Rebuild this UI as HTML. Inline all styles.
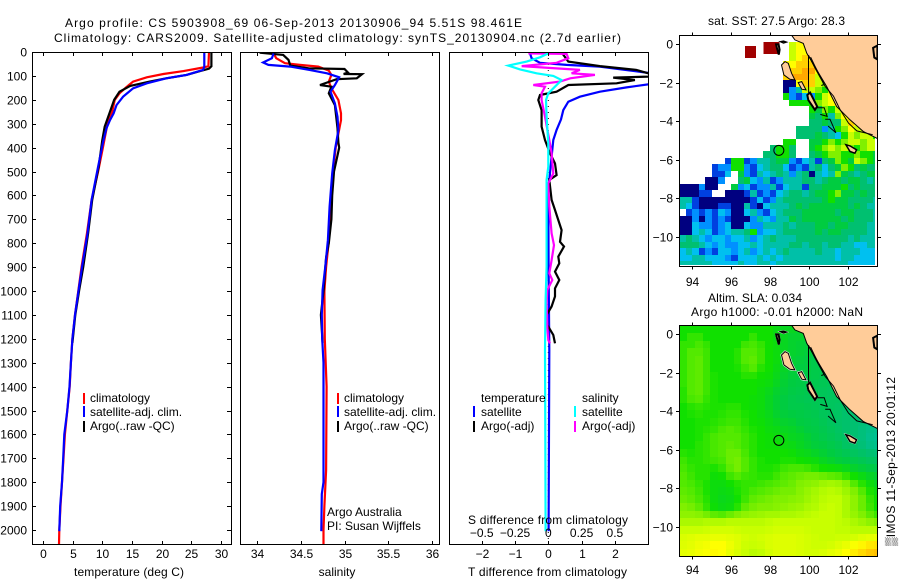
<!DOCTYPE html>
<html>
<head>
<meta charset="utf-8">
<title>Argo profile 5903908_69</title>
<style>
html,body{margin:0;padding:0;background:#fff;}
svg{display:block;}
text{font-family:"Liberation Sans",Arial,"DejaVu Sans",sans-serif;font-size:12px;fill:#000;}
</style>
</head>
<body>
<svg id="fig" xmlns="http://www.w3.org/2000/svg" width="900" height="580" viewBox="0 0 900 580">
<defs>
<clipPath id="clip1"><rect x="32" y="52" width="199" height="493"/></clipPath>
<clipPath id="clip2"><rect x="240" y="52" width="199" height="493"/></clipPath>
<clipPath id="clip3"><rect x="449" y="52" width="199" height="493"/></clipPath>
<clipPath id="clipM1"><rect x="679" y="35" width="198" height="232"/></clipPath>
<clipPath id="clipM2"><rect x="679" y="325" width="198" height="232"/></clipPath>
</defs>
<text x="65" y="27" textLength="457" lengthAdjust="spacing">Argo profile: CS 5903908_69 06-Sep-2013 20130906_94 5.51S 98.461E</text>
<text x="54" y="42" textLength="567" lengthAdjust="spacing">Climatology: CARS2009. Satellite-adjusted climatology: synTS_20130904.nc (2.7d earlier)</text>

<g id="layer-maps"></g>
<g id="layer-lines"></g>
<g id="layer-axes"></g>

<text x="74" y="576" textLength="110" lengthAdjust="spacing">temperature (deg C)</text>
<text x="337" y="576" text-anchor="middle">salinity</text>
<text x="468" y="576" textLength="159" lengthAdjust="spacing">T difference from climatology</text>
<text x="468" y="524" textLength="160" lengthAdjust="spacing">S difference from climatology</text>

<g>
<rect x="83" y="393" width="2" height="11" fill="#f00"/>
<rect x="83" y="406" width="2" height="11" fill="#00f"/>
<rect x="83" y="421" width="2" height="11" fill="#000"/>
<text x="90" y="402">climatology</text>
<text x="90" y="416">satellite-adj. clim.</text>
<text x="90" y="430">Argo(..raw -QC)</text>
</g>
<g>
<rect x="337" y="393" width="2" height="11" fill="#f00"/>
<rect x="337" y="406" width="2" height="11" fill="#00f"/>
<rect x="337" y="421" width="2" height="11" fill="#000"/>
<text x="344" y="402">climatology</text>
<text x="344" y="416">satellite-adj. clim.</text>
<text x="344" y="430">Argo(..raw -QC)</text>
<text x="327" y="516">Argo Australia</text>
<text x="327" y="530">PI: Susan Wijffels</text>
</g>
<g>
<text x="481" y="402">temperature</text>
<text x="582" y="402">salinity</text>
<rect x="473" y="406" width="2" height="11" fill="#00f"/>
<rect x="473" y="421" width="2" height="11" fill="#000"/>
<rect x="574" y="406" width="2" height="11" fill="#0ff"/>
<rect x="574" y="421" width="2" height="11" fill="#f0f"/>
<text x="481" y="416">satellite</text>
<text x="481" y="430">Argo(-adj)</text>
<text x="582" y="416">satellite</text>
<text x="582" y="430">Argo(-adj)</text>
</g>

<text x="708" y="25" textLength="137" lengthAdjust="spacing">sat. SST: 27.5 Argo: 28.3</text>
<text x="708" y="302" textLength="94" lengthAdjust="spacing">Altim. SLA: 0.034</text>
<text x="691" y="316" textLength="172" lengthAdjust="spacing">Argo h1000: -0.01 h2000: NaN</text>
<text transform="translate(895,546) rotate(-90)" textLength="169" lengthAdjust="spacing">▒IMOS 11-Sep-2013 20:01:12</text>
</svg>
<script>
// ---- profile values: temperature panel ----
const tempClimDepth = [0,60,65,80,92,106,124,148,173,200,257,285,400,500,620,760,900,1000,1100,1200,1300,1400,1500,1600,1700,1800,1900,2000,2062];
const tempClimValue = [28,27.9,27,23.7,20.3,17.5,15.2,14,12.9,12.1,11.6,11,10.1,9.3,8.2,7.4,6.5,5.95,5.4,4.95,4.7,4.5,4.1,3.7,3.45,3.2,2.95,2.75,2.7];
const tempArgoDepth = [0,60,70,80,96,110,124,142,166,200,257,312,368,480,619,759,898,996,1100,1217];
const tempArgoValue = [28.4,28.4,28,26.5,24.2,20.8,18,14.7,12.9,12,11.2,10.4,10,9.4,8.3,7.6,6.8,6.1,5.45,4.95];
const tempSatDepth = [0,61,75,96,110,131,152,187,222,257,285,319,368,480,619,759,898,996,1100,1200,1300,1400,1500,1600,1700,1800,1900,2005];
const tempSatValue = [27.2,27.2,27,24.2,20.8,17.5,15.2,13.5,12.4,11.9,11.3,10.7,10.2,9.3,8.2,7.5,6.6,6,5.4,4.95,4.7,4.47,4.1,3.6,3.4,3.2,2.9,2.75];

// ---- profile values: salinity panel ----
const salClimDepth = [6,26,47,54,61,78,96,124,152,201,257,285,400,500,650,790,900,1000,1200,1400,1750,1900,2000,2062];
const salClimValue = [34.19,34.22,34.32,34.49,34.7,34.82,34.85,34.82,34.85,34.93,34.96,34.96,34.9,34.87,34.84,34.82,34.79,34.77,34.775,34.795,34.79,34.77,34.76,34.76];
const salArgoDepth = [3,12,33,57,68,71,86,92,93,110,114,138,145,173,222,319,380,400,500,600,700,800,860,1000,1100,1217];
const salArgoValue = [34.03,34.3,34.36,34.38,34.59,35,35.04,34.99,35.2,35.14,34.91,34.72,34.85,34.82,34.89,34.92,34.93,34.94,34.88,34.86,34.85,34.82,34.79,34.76,34.73,34.75];
const salSatDepth = [6,26,44,54,61,75,89,106,138,166,215,271,327,410,508,647,787,898,996,1100,1200,1300,1800,1850,2005];
const salSatValue = [34.19,34.17,34.07,34.13,34.38,34.6,34.8,34.94,34.89,34.84,34.89,34.92,34.93,34.89,34.86,34.83,34.81,34.78,34.75,34.74,34.745,34.76,34.76,34.74,34.735];

// ---- profile values: difference panel ----
const diffTSatDepth = [6,26,45,54,61,86,100,120,135,148,166,187,208,243,282,326,368,438,508,577,900,1247,2005];
const diffTSatValue = [-0.55,-0.5,-0.25,0.55,1.55,2.95,4.2,4.2,3,2.35,1.55,0.95,0.6,0.45,0.38,0.25,0.15,0.1,0.05,0,0.01,0.03,0.01];
const diffTArgoDepth = [6,40,59,75,89,100,107,117,131,138,166,180,201,243,312,368,424,466,515,535,619,661,745,794,814,856,884,919,954,989,1023,1065,1100,1142,1184,1219];
const diffTArgoValue = [0.42,0.6,1.55,2.65,3,3.75,1.95,2.6,2.05,0.6,0.25,-0.25,-0.3,-0.2,-0.2,-0.1,0.05,0.2,0.25,0.03,0.1,0.2,0.4,0.35,0.47,0.3,0.33,0.2,0.33,0.2,0.2,0.1,-0.05,-0.03,0.15,0.2];
const diffSArgoDepth = [6,8,26,45,59,75,89,96,110,124,138,145,173,201,271,368,424,508,550,647,759,808,871,926,954,996,1052,1150,1206,1219];
const diffSArgoValue = [-0.15,0.1375,0.15,0.0625,-0.2,0.2375,0.175,0.35,0.165,0.0875,-0.1125,-0.025,-0.05,-0.05,-0.025,0.0075,0.025,0.0375,0,0.0075,0.025,0.0425,0.025,0.0075,0.03,-0.0075,-0.0125,-0.0075,0,0.0125];
const diffSSatDepth = [6,22,40,57,73,89,100,117,152,173,201,271,382,480,535,647,759,898,1038,1247,1600,2005];
const diffSSatValue = [0,-0.0625,-0.1625,-0.3,-0.2125,-0.0875,0.0375,0.1,0.0375,0,-0.0175,-0.0125,0,0,-0.0125,-0.0125,-0.0125,-0.0125,-0.02,-0.025,-0.0225,-0.02];

// ---- axis tick labels ----
const depthTicks = [0,100,200,300,400,500,600,700,800,900,1000,1100,1200,1300,1400,1500,1600,1700,1800,1900,2000];
const tempTicks = [0,5,10,15,20,25,30];
const salTicks = [34,34.5,35,35.5,36];
const diffTTicks = [-2,-1,0,1,2];
const diffSTicks = [-0.5,-0.25,0,0.25,0.5];
const lonTicks = [94,96,98,100,102];
const latTicks = [0,-2,-4,-6,-8,-10];

// ---- map values (colour-scale levels: 0 navy ... 7 green ... 10 yellow ... 12 orange) ----
const _ = null;
const sstLevels = [
[],
[_,_,_,_,_,_,_,_,_,_,_,_,_,_,_,_,_,9,10,10],
[_,_,_,_,_,_,_,_,_,_,_,_,_,_,_,_,_,9,10,10,10],
[_,_,_,_,_,_,_,_,_,_,_,_,_,_,_,_,_,9,10,11,10],
[_,_,_,_,_,_,_,_,_,_,_,_,_,_,_,_,10,10,11,11,11,10],
[_,_,_,_,_,_,_,_,_,_,_,_,_,_,_,_,11,11,11,12,12,10,9],
[_,_,_,_,_,_,_,_,_,_,_,_,_,_,_,_,11,12,12,12,11,9,8],
[_,_,_,_,_,_,_,_,_,_,_,_,_,_,_,_,0,0,10,11,11,9,8,7],
[_,_,_,_,_,_,_,_,_,_,_,_,_,_,_,_,0,2,4,9,9,8,7,9,9],
[_,_,_,_,_,_,_,_,_,_,_,_,_,_,_,_,7,2,1,3,2,7,9,10,9,9],
[_,_,_,_,_,_,_,_,_,_,_,_,_,_,_,_,_,7,7,7,7,8,9,10,10,9,8],
[_,_,_,_,_,_,_,_,_,_,_,_,_,_,_,_,_,_,_,_,7,6,8,7,9,10,9],
[_,_,_,_,_,_,_,_,_,_,_,_,_,_,_,_,_,_,_,_,6,5,7,4,8,10,10,9],
[_,_,_,_,_,_,_,_,_,_,_,_,_,_,_,_,_,_,_,_,5,5,6,5,5,9,11,10,8],
[_,_,_,_,_,_,_,_,_,_,_,_,_,_,_,_,_,_,5,5,5,5,2,4,7,8,10,9,9,7],
[_,_,_,_,_,_,_,_,_,_,_,_,_,_,_,_,_,_,5,5,5,6,5,4,3,7,9,8,9,9,7],
[_,_,_,_,_,_,_,_,_,_,_,_,_,_,_,_,7,7,_,_,6,6,7,8,7,8,9,9,8,9,9],
[_,_,_,_,_,_,_,_,_,_,_,_,_,_,5,7,7,5,_,_,6,7,8,9,8,9,8,7,8,9,9],
[_,_,_,_,_,_,_,_,_,_,_,_,_,5,5,7,7,5,_,_,5,6,7,8,8,7,7,8,7,7,6],
[_,_,_,_,_,_,_,1,7,7,1,2,4,4,5,6,6,2,1,3,4,1,5,6,8,7,6,9,8,7,6],
[_,_,_,_,_,1,2,2,7,7,2,1,3,4,5,5,3,1,2,1,4,5,3,5,6,8,7,5,6,5,5],
[_,_,_,_,_,1,1,3,_,6,2,1,4,3,4,5,4,2,4,5,0,4,3,4,8,6,5,4,5,6,6],
[_,_,_,_,0,0,2,_,_,5,6,3,2,4,1,2,4,4,4,5,5,4,5,6,6,5,6,6,5,4,5],
[0,0,0,2,0,0,_,_,6,2,3,1,2,2,4,1,3,4,4,1,5,5,6,6,6,7,5,6,5,5,5],
[0,0,0,1,1,_,_,0,0,0,1,4,1,2,1,3,4,5,5,4,5,6,6,7,8,6,6,5,6,5,5],
[4,4,1,0,0,0,0,0,0,0,0,1,3,1,2,4,5,5,5,5,5,5,6,7,6,6,5,5,5,5,4],
[4,3,1,0,0,0,1,1,0,0,4,1,0,3,4,4,4,5,6,5,6,6,6,6,6,6,5,6,5,4,4],
[_,1,2,1,2,1,3,2,0,0,3,4,2,1,3,4,5,5,5,6,6,6,6,6,5,6,6,5,5,5,4],
[0,0,2,0,2,1,2,1,0,0,0,2,4,3,2,4,4,6,5,6,6,6,6,6,6,5,6,5,5,5,4],
[0,0,3,2,2,1,2,3,0,0,3,2,2,4,4,4,5,4,5,5,5,6,6,5,6,6,5,5,5,4,4],
[0,0,3,4,3,1,2,3,4,4,5,7,2,3,3,4,5,5,5,5,5,6,5,6,6,5,5,5,5,4,4],
[4,5,4,3,2,3,3,2,3,3,4,2,3,4,5,4,4,4,5,5,5,5,5,5,5,5,4,5,4,4,4],
[5,5,5,4,3,2,3,2,2,3,3,4,3,4,4,4,4,5,5,4,5,5,4,5,5,4,4,3,3,4,4],
[3,4,3,1,2,1,3,3,2,3,4,2,3,4,3,4,5,4,4,4,4,5,4,4,3,4,4,4,3,3,3],
[3,3,4,4,3,3,3,2,1,3,3,3,4,3,4,3,4,4,4,4,4,4,4,4,3,4,4,3,3,3,3],
[4,4,4,4,4,3,3,3,3,4,3,3,4,4,3,4,4,4,4,4,4,4,4,4,4,4,3,3,3,3,3]
];
const sstHotLon = [97.0,97.95,98.2];
const sstHotLat = [-0.41,-0.21,-0.21];
const slaLevels = [
[7,7,7,7,7,7,7,7,7,7,7,7,6.7,6.5,6.5,6.3,6.3,6,6,6,6,6,6,6,6,6],
[7,7.3,7.3,7,7,7,7,7,7,7.3,7,7,6.7,6.5,6.3,6.3,6.2,6,6,6,6,6,6,6,6,6],
[7.3,7.3,7.5,7.3,7,7,7,7,7.4,7.5,7.3,7,6.8,6.5,6.3,6.2,6.1,6,6,6,6,6,6,6,6,6],
[7.3,7.6,7.6,7.4,7,7,7,7.2,7.6,7.6,7.4,7,6.8,6.5,6.3,6.2,6.1,6,6,6,6,6,6,6,6,6],
[7.3,7.6,7.7,7.4,7,7,7,7.2,7.6,7.7,7.4,7,6.8,6.5,6.2,6.1,6,5.8,5.8,5.8,5.8,5.8,5.8,5.8,5.8,5.8],
[7.3,7.6,7.7,7.4,7,7,7,7.1,7.4,7.6,7.2,7,6.7,6.4,6.2,6,6,5.8,5.8,5.8,5.8,5.8,5.8,5.8,5.8,5.8],
[7.3,7.6,7.7,7.4,7.1,7,7,7,7.2,7.2,7,6.9,6.6,6.3,6.1,6,5.9,5.8,5.7,5.6,5.6,5.6,5.6,5.6,5.6,5.6],
[7.3,7.6,7.7,7.4,7.1,7,7,7,7,7,6.9,6.8,6.5,6.2,6,5.9,5.8,5.7,5.6,5.5,5.5,5.5,5.5,5.5,5.5,5.5],
[7.2,7.6,7.7,7.4,7.1,7,7,7,7,7,6.8,6.6,6.3,6.1,5.9,5.8,5.7,5.6,5.5,5.4,5.4,5.4,5.4,5.4,5.4,5.4],
[7.2,7.5,7.6,7.3,7.1,7,7,7,7,6.9,6.8,6.5,6.2,6,5.8,5.7,5.6,5.6,5.5,5.4,5.4,5.3,5.3,5.3,5.3,5.3],
[7,7.2,7.3,7.2,7.1,7.1,7.2,7.2,7,6.9,6.8,6.5,6.2,6,5.8,5.8,5.7,5.6,5.5,5.4,5.3,5.2,5.1,5.1,5.1,5.1],
[7,7.1,7.2,7.1,7.1,7.2,7.3,7.3,7.1,7,6.8,6.6,6.3,6.1,6,5.9,5.8,5.7,5.5,5.4,5.3,5.1,5,4.9,4.8,4.8],
[7,7,7.1,7.1,7.2,7.3,7.4,7.4,7.2,7,6.9,6.7,6.5,6.3,6.2,6,5.9,5.8,5.6,5.4,5.2,5.1,5,4.9,4.8,4.8],
[7,7,7.1,7.2,7.3,7.5,7.6,7.5,7.3,7.1,7,6.8,6.7,6.5,6.4,6.2,6,5.9,5.7,5.5,5.3,5.1,5,4.8,4.6,4.5],
[7,7,7.1,7.3,7.5,7.6,7.6,7.6,7.4,7.2,7,6.9,6.8,6.7,6.5,6.4,6.2,6,5.8,5.6,5.4,5.2,5,4.8,4.5,4.4],
[7,7,7.2,7.3,7.5,7.6,7.7,7.6,7.4,7.2,7,6.9,6.9,6.8,6.7,6.5,6.3,6.1,6,5.8,5.6,5.3,5.1,4.9,4.6,4.5],
[7.2,7.1,7.2,7.3,7.5,7.6,7.8,7.8,7.5,7.2,7,7,7,7,6.9,6.7,6.6,6.4,6.2,6,5.8,5.6,5.4,5.2,5,4.9],
[7.4,7.2,7.2,7.3,7.4,7.5,7.8,7.9,7.6,7.3,7.1,7,7,7.1,7.1,7,6.9,6.8,6.5,6.3,6.1,6,5.8,5.6,5.4,5.3],
[7.5,7.3,7.2,7.2,7.1,7.3,7.7,7.9,7.6,7.3,7.1,7.1,7.2,7.4,7.5,7.5,7.4,7.2,7,6.9,6.8,6.6,6.3,6.1,5.9,5.7],
[7.6,7.4,7.2,7.2,6.9,7,7.4,7.6,7.4,7.3,7.2,7.2,7.4,7.6,7.7,7.8,7.9,7.9,7.8,7.7,7.6,7.3,7,6.7,6.4,6.2],
[7.6,7.5,7.3,7.1,6.8,6.8,7,7.2,7.3,7.3,7.4,7.5,7.6,7.7,7.8,8,8.1,8.2,8.4,8.5,8.4,8.1,7.6,7.2,6.8,6.5],
[7.7,7.6,7.4,7.1,6.8,6.7,6.8,7.1,7.3,7.5,7.6,7.7,7.8,7.9,7.9,8.1,8.3,8.5,8.7,8.8,8.7,8.4,8,7.6,7.1,6.8],
[7.8,7.7,7.5,7.2,6.8,6.6,6.7,7,7.4,7.7,7.8,7.9,8,8,8.1,8.2,8.4,8.6,8.8,8.9,8.9,8.6,8.2,7.8,7.3,7],
[8,7.9,7.7,7.3,6.9,6.7,6.8,7.2,7.7,7.9,8,8,8.1,8.2,8.3,8.4,8.6,8.7,8.9,9,8.9,8.6,8.2,7.8,7.4,7],
[8.2,8.2,8.1,7.9,7.7,7.6,7.8,8,8.2,8.3,8.4,8.5,8.5,8.6,8.6,8.7,8.8,8.9,9,9,8.9,8.6,8.3,8,7.7,7.4],
[8.6,8.6,8.6,8.7,8.7,8.7,8.8,8.8,8.8,8.8,8.8,8.9,9,9,9,9,9,9,9,9,8.9,8.8,8.6,8.4,8.2,8],
[9,9,9,9.1,9.2,9.2,9.2,9.1,9,9,9,9.1,9.2,9.2,9.2,9.2,9.1,9,9,9,8.9,8.9,8.8,8.8,8.8,8.8],
[9.3,9.4,9.5,9.5,9.6,9.6,9.5,9.4,9.2,9.1,9.2,9.3,9.4,9.4,9.4,9.3,9.2,9.1,9,9,9.1,9.1,9.2,9.4,9.5,9.6],
[9.4,9.5,9.7,9.8,10,10,9.7,9.4,9.1,9,9.1,9.3,9.4,9.4,9.4,9.3,9.2,9.1,9.1,9.2,9.4,9.6,9.9,10.2,10.5,10.6],
[9.5,9.6,9.8,9.9,10.1,10,9.6,9.3,9,8.8,8.9,9.2,9.4,9.4,9.4,9.3,9.2,9.2,9.3,9.5,9.7,10,10.4,10.8,11.2,11.4]
];

// ---- geography (lon, lat) ----
const coastLon = [99.09,99.29,99.72,99.9,100.41,100.93,101.44,102.13,102.81,103.6];
const coastLat = [0.5,0.21,0.03,-0.48,-1.34,-2.2,-3.24,-3.93,-4.53,-4.93];
const islandShapes = [
 {lon:[98.6,98.78,98.95,99.12,99.29,99.03,98.72],lat:[-1.09,-0.91,-1,-1.52,-1.86,-1.83,-1.6],width:1},
 {lon:[99.46,99.64,99.86,99.64],lat:[-2,-1.95,-2.38,-2.34],width:1},
 {lon:[99.93,100.07,100.44,100.32,99.98],lat:[-2.64,-2.52,-3.24,-3.41,-2.9],width:2},
 {lon:[101.92,102.13,102.47,102.38,102.13],lat:[-5.22,-5.28,-5.48,-5.66,-5.57],width:1.5},
 {lon:[98.32,98.45,98.5,98.46,98.36],lat:[-0.02,-0.02,-0.3,-0.55,-0.2],width:2},
 {lon:[98.55,98.7,98.84,98.7],lat:[0.12,0.15,0.1,0.05],width:1.5},
 {lon:[103.32,103.54,103.54,103.38],lat:[-0.2,-0.08,-0.8,-0.7],width:2}
];
const contourShapes = [
 {lon:[99.99,99.99,100.0],lat:[-0.58,-2.0,-2.65]},
 {lon:[99.99,100.33,100.85,101.28,101.62,102.05,102.48,103.3],lat:[-0.58,-1.26,-2.2,-2.7,-3.4,-4.1,-4.5,-4.7]},
 {lon:[100.1,100.3,100.8,100.65],lat:[-0.68,-1.1,-2.1,-2.15]},
 {lon:[100.44,100.8,100.95,100.6],lat:[-3.3,-3.3,-3.75,-3.65]},
 {lon:[100.85,101.1,101.4,101.0],lat:[-3.9,-3.9,-4.6,-4.25]}
];
const floatLon = 98.461;
const floatLat = -5.51;

// ---- axis functions ----
function yDepth(d){return 52+0.239*d;}
function xTemp(t){return 43+5.93*t;}
function xSal(s){return 257+87.5*(s-34);}
function xDiffT(v){return 548.3+33.3*v;}
function xDiffS(v){return 548.3+133.2*v;}
function mapX(lon){return 692.3+19.4*(lon-94);}
function mapY(lat,zeroY){return zeroY-19.3*lat;}
function fmt(v){return String(v).replace('-','\u2212');}

const NS='http://www.w3.org/2000/svg';
const axesLayer=document.getElementById('layer-axes');
const linesLayer=document.getElementById('layer-lines');
const mapsLayer=document.getElementById('layer-maps');

function drawSeries(depths,values,xf,color,clip,name){
  const el=document.createElementNS(NS,'polyline');
  
  
  el.setAttribute('points',depths.map((d,i)=>xf(values[i]).toFixed(1)+','+yDepth(d).toFixed(1)).join(' '));
  el.setAttribute('fill','none');
  el.setAttribute('stroke',color);
  el.setAttribute('stroke-width','2.2');
  el.setAttribute('clip-path','url(#'+clip+')');
  linesLayer.appendChild(el);
}
function drawTick(x1,y1,x2,y2){
  const el=document.createElementNS(NS,'line');
  
  
  el.setAttribute('x1',x1);el.setAttribute('y1',y1);el.setAttribute('x2',x2);el.setAttribute('y2',y2);
  el.setAttribute('stroke','#000');
  el.setAttribute('shape-rendering','crispEdges');
  axesLayer.appendChild(el);
}
function drawLabel(x,y,txt,anchor){
  const el=document.createElementNS(NS,'text');
  
  
  el.setAttribute('x',x);el.setAttribute('y',y);
  el.setAttribute('text-anchor',anchor);
  el.textContent=txt;
  axesLayer.appendChild(el);
}
function drawBox(x,y,w,h){
  const el=document.createElementNS(NS,'rect');
  
  
  el.setAttribute('x',x);el.setAttribute('y',y);el.setAttribute('width',w);el.setAttribute('height',h);
  el.setAttribute('fill','none');
  el.setAttribute('stroke','#000');
  el.setAttribute('stroke-width','1');
  el.setAttribute('shape-rendering','crispEdges');
  axesLayer.appendChild(el);
}

// ---- profile panels ----
drawSeries(tempClimDepth,tempClimValue,xTemp,'#f00','clip1','temperature-climatology-line');
drawSeries(tempArgoDepth,tempArgoValue,xTemp,'#000','clip1','temperature-argo-line');
drawSeries(tempSatDepth,tempSatValue,xTemp,'#00f','clip1','temperature-satellite-line');
drawSeries(salClimDepth,salClimValue,xSal,'#f00','clip2','salinity-climatology-line');
drawSeries(salArgoDepth,salArgoValue,xSal,'#000','clip2','salinity-argo-line');
drawSeries(salSatDepth,salSatValue,xSal,'#00f','clip2','salinity-satellite-line');
const zeroLine=document.createElementNS(NS,'line');


zeroLine.setAttribute('x1',xDiffT(0));zeroLine.setAttribute('x2',xDiffT(0));
zeroLine.setAttribute('y1',yDepth(0));zeroLine.setAttribute('y2',yDepth(2062));
zeroLine.setAttribute('stroke','#000');
zeroLine.setAttribute('stroke-dasharray','1 5');
linesLayer.appendChild(zeroLine);
drawSeries(diffTSatDepth,diffTSatValue,xDiffT,'#00f','clip3','t-difference-satellite-line');
drawSeries(diffTArgoDepth,diffTArgoValue,xDiffT,'#000','clip3','t-difference-argo-line');
drawSeries(diffSArgoDepth,diffSArgoValue,xDiffS,'#f0f','clip3','s-difference-argo-line');
drawSeries(diffSSatDepth,diffSSatValue,xDiffS,'#0ff','clip3','s-difference-satellite-line');

// ---- profile axes ----
drawBox(32.5,52.5,199,492);drawBox(240.5,52.5,199,492);drawBox(449.5,52.5,199,492);
depthTicks.forEach(d=>{
  const y=Math.round(yDepth(d))+0.5;
  drawTick(32,y,36,y);drawTick(227,y,231,y);
  drawLabel(27,y+4,String(d),'end');
});
tempTicks.forEach(t=>{
  const x=Math.round(xTemp(t))+0.5;
  drawTick(x,52,x,56);drawTick(x,541,x,545);
  drawLabel(x,558,String(t),'middle');
});
salTicks.forEach(s=>{
  const x=Math.round(xSal(s))+0.5;
  drawTick(x,52,x,56);drawTick(x,541,x,545);
  drawLabel(x,558,String(s),'middle');
});
diffTTicks.forEach(v=>{
  const x=Math.round(xDiffT(v))+0.5;
  drawTick(x,52,x,56);drawTick(x,541,x,545);
  drawLabel(x,558,fmt(v),'middle');
});
diffSTicks.forEach(v=>{
  drawLabel(xDiffS(v),537,fmt(v),'middle');
});

// ---- colour scale ----
const scaleStops=[[0,0,128],[0,64,224],[0,144,255],[0,192,240],[0,192,168],[0,192,112],[0,204,64],[16,224,0],[128,240,0],[200,255,0],[255,255,0],[255,208,0],[255,168,0]];
function levelColor(v){
  const i=Math.max(0,Math.min(scaleStops.length-2,Math.floor(v)));
  const f=Math.max(0,Math.min(1,v-i));
  const a=scaleStops[i],b=scaleStops[i+1];
  return 'rgb('+a.map((c,k)=>Math.round(c+(b[k]-c)*f)).join(',')+')';
}

function landPoints(zeroY){
  const pts=coastLon.map((lon,i)=>mapX(lon).toFixed(1)+','+mapY(coastLat[i],zeroY).toFixed(1));
  pts.push(mapX(103.6).toFixed(1)+','+mapY(0.6,zeroY).toFixed(1));
  return pts.join(' ');
}
function shapePoints(s,zeroY){
  return s.lon.map((lon,i)=>mapX(lon).toFixed(1)+','+mapY(s.lat[i],zeroY).toFixed(1)).join(' ');
}
function drawGeography(group,zeroY,halo){
  const land=document.createElementNS(NS,'polygon');
  
  
  land.setAttribute('points',landPoints(zeroY));
  land.setAttribute('fill','#ffcc99');
  land.setAttribute('stroke','#000');
  group.appendChild(land);
  contourShapes.forEach(s=>{
    const c=document.createElementNS(NS,'polyline');
    
    
    c.setAttribute('points',shapePoints(s,zeroY));
    c.setAttribute('fill','none');
    c.setAttribute('stroke','#000');
    group.appendChild(c);
  });
  islandShapes.forEach(s=>{
    if(halo){
      const h=document.createElementNS(NS,'polygon');
      
      
      h.setAttribute('points',shapePoints(s,zeroY));
      h.setAttribute('fill','none');
      h.setAttribute('stroke','#fff');
      h.setAttribute('stroke-width','2');
      group.appendChild(h);
    }
    const p=document.createElementNS(NS,'polygon');
    
    
    p.setAttribute('points',shapePoints(s,zeroY));
    p.setAttribute('fill','#ffcc99');
    p.setAttribute('stroke','#000');
    p.setAttribute('stroke-width',s.width);
    group.appendChild(p);
  });
  const f=document.createElementNS(NS,'circle');
  
  
  f.setAttribute('cx',mapX(floatLon));
  f.setAttribute('cy',mapY(floatLat,zeroY));
  f.setAttribute('r','5');
  f.setAttribute('fill','none');
  f.setAttribute('stroke','#000');
  group.appendChild(f);
}

// ---- SST map ----
const gSst=document.createElementNS(NS,'g');


gSst.setAttribute('clip-path','url(#clipM1)');
mapsLayer.appendChild(gSst);
const sstCellW=6.47,sstCellH=6.45;
sstLevels.forEach((row,r)=>{
  row.forEach((v,c)=>{
    if(v===null||v===undefined)return;
    const x0=679.3+c*sstCellW,y0=35.3+r*sstCellH;
    const cell=document.createElementNS(NS,'rect');
    
    
    cell.setAttribute('x',Math.round(x0));
    cell.setAttribute('y',Math.round(y0));
    cell.setAttribute('width',Math.min(875,Math.round(x0+sstCellW))-Math.round(x0));
    cell.setAttribute('height',Math.min(265,Math.round(y0+sstCellH))-Math.round(y0));
    cell.setAttribute('fill',levelColor(v));
    cell.setAttribute('shape-rendering','crispEdges');
    gSst.appendChild(cell);
  });
});
sstHotLon.forEach((lon,i)=>{
  const cell=document.createElementNS(NS,'rect');
  
  
  cell.setAttribute('x',mapX(lon)-5.5);
  cell.setAttribute('y',mapY(sstHotLat[i],44)-6);
  cell.setAttribute('width','11');
  cell.setAttribute('height','12');
  cell.setAttribute('fill','#a00000');
  cell.setAttribute('shape-rendering','crispEdges');
  gSst.appendChild(cell);
});
drawGeography(gSst,44,false);

// ---- SLA map ----
const gSla=document.createElementNS(NS,'g');


gSla.setAttribute('clip-path','url(#clipM2)');
mapsLayer.appendChild(gSla);
const slaCellW=7.77,slaCellH=7.72;
slaLevels.forEach((row,r)=>{
  row.forEach((v,c)=>{
    const x0=679.3+c*slaCellW,y0=325.3+r*slaCellH;
    const cell=document.createElementNS(NS,'rect');
    
    
    cell.setAttribute('x',Math.round(x0));
    cell.setAttribute('y',Math.round(y0));
    cell.setAttribute('width',Math.round(x0+slaCellW)-Math.round(x0));
    cell.setAttribute('height',Math.round(y0+slaCellH)-Math.round(y0));
    cell.setAttribute('fill',levelColor(v));
    cell.setAttribute('shape-rendering','crispEdges');
    gSla.appendChild(cell);
  });
});
drawGeography(gSla,334,true);

// ---- map axes ----
[[35.5,231,44,290],[325.5,231,334,578]].forEach(m=>{
  const top=m[0],h=m[1],zero=m[2],labelY=m[3];
  drawBox(679.5,top,198,h);
  lonTicks.forEach(lon=>{
    const x=Math.round(mapX(lon))+0.5;
    drawTick(x,top-3,x,top);drawTick(x,top+h,x,top+h+3);
    drawLabel(x,labelY-4,String(lon),'middle');
  });
  latTicks.forEach(lat=>{
    const y=Math.round(mapY(lat,zero))+0.5;
    drawTick(676,y,679,y);drawTick(878,y,881,y);
    drawLabel(673,y+4,fmt(lat),'end');
  });
});
</script>
</body>
</html>
